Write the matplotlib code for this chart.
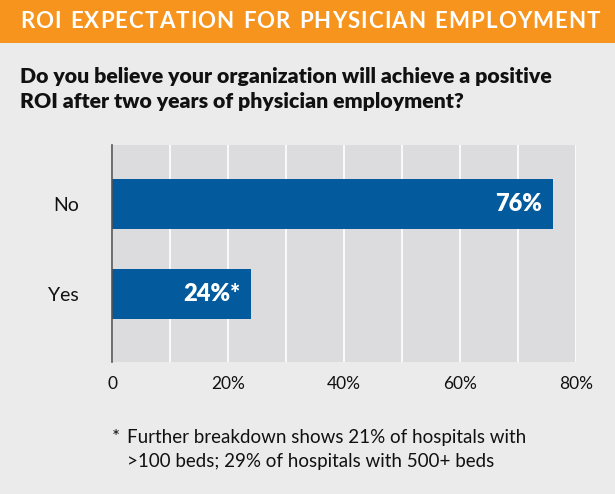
import matplotlib
matplotlib.use("Agg")
import matplotlib.pyplot as plt
from matplotlib.patches import Rectangle
from matplotlib.font_manager import FontProperties

categories = ["Yes", "No"]
values = [24, 76]
bar_labels = ["24%*", "76%"]
xticks = [0, 20, 40, 60, 80]
xtick_labels = ["0", "20%", "40%", "60%", "80%"]
title = "ROI EXPECTATION FOR PHYSICIAN EMPLOYMENT"
question = "Do you believe your organization will achieve a positive\nROI after two years of physician employment?"
footnote_line1 = "Further breakdown shows 21% of hospitals with"
footnote_line2 = ">100 beds; 29% of hospitals with 500+ beds"

W, H = 615, 494
fig = plt.figure(figsize=(W/100, H/100), dpi=100)
fig.patch.set_facecolor("#ebebeb")
renderer = fig.canvas.get_renderer()

# header band
fig.patches.append(Rectangle((0, 1-43/H), 1, 43/H, transform=fig.transFigure,
                             facecolor="#f7941d", edgecolor="none", zorder=0))

# letter-spaced title between x=20 and x=600 px
fp = FontProperties(family="Lato", weight="bold", size=16)
widths = [renderer.get_text_width_height_descent(c if c != " " else "n", fp, ismath=False)[0]
          * (0.55 if c == " " else 1.0) for c in title]
total = sum(widths)
start, end = 20, 600
gap = (end - start - total) / (len(title) - 1)
x = start
for c, w in zip(title, widths):
    if c != " ":
        fig.text(x/W, 1-22/H, c, color="white", fontproperties=fp, va="center", ha="left")
    x += w + gap

fig.text(20/W, 1-89/H, question, color="#111111", fontsize=15.3, fontweight="heavy",
         family="Lato", va="center", ha="left", linespacing=1.38)

ax = fig.add_axes([112/W, 1-362/H, 464/W, 217/H])
ax.set_facecolor("#dcdcde")
ypos = list(range(len(categories)))
ax.barh(ypos, values, height=0.56, color="#035a9c", zorder=3)
ax.set_xlim(0, 80)
ax.set_ylim(-0.76, 1.66)
ax.set_xticks(xticks)
ax.set_xticklabels(xtick_labels, family="Lato", fontsize=12.5, color="#111111")
ax.set_xticks(range(10, 80, 20), minor=True)
ax.set_yticks(ypos)
ax.set_yticklabels(categories, family="Lato", fontsize=14, color="#111111")
ax.grid(True, axis="x", which="both", color="white", linewidth=1.2, zorder=1)
ax.tick_params(axis="both", which="both", length=0)
ax.tick_params(axis="x", pad=10)
ax.tick_params(axis="y", pad=24)
for s in ["top", "right", "bottom"]:
    ax.spines[s].set_visible(False)
ax.spines["left"].set_color("#555555")
ax.spines["left"].set_linewidth(1.2)
ax.spines["left"].set_zorder(4)
for y, v, lab in zip(ypos, values, bar_labels):
    ax.text(v - 1.8, y, lab, color="white", fontsize=17, fontweight="heavy",
            family="Lato", ha="right", va="center", zorder=5)

fig.text(112/W, 1-437/H, "*", color="#111111", fontsize=13.5, family="Lato",
         va="center", ha="left")
fig.text(127/W, 1-437/H, footnote_line1, color="#111111", fontsize=13.5,
         family="Lato", va="center", ha="left")
fig.text(127/W, 1-461/H, footnote_line2, color="#111111", fontsize=13.5,
         family="Lato", va="center", ha="left")

fig.savefig("out.png", dpi=100, facecolor=fig.get_facecolor())
